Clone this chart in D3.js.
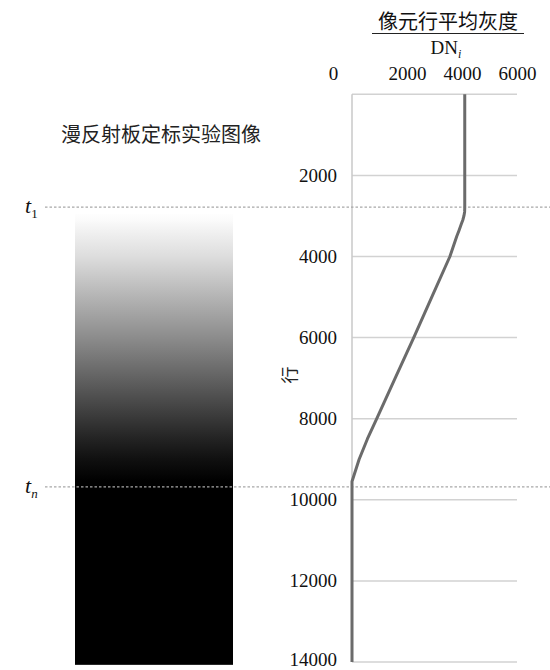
<!DOCTYPE html>
<html>
<head>
<meta charset="utf-8">
<script src="https://cdn.jsdelivr.net/npm/d3@7"></script>
<style>
  html, body { margin: 0; padding: 0; background: #fff; }
  svg { display: block; }
  .serif { font-family: "Liberation Serif", "DejaVu Serif", serif; }
  .cjk { font-family: "Noto Sans CJK SC", sans-serif; }
</style>
</head>
<body>
<div id="chart"></div>
<script>
// Mean gray level (DN) of each pixel row of the diffuse-reflector calibration image
const rows = [0, 2000, 2800, 2900, 3000, 3100, 3200, 3350, 3500, 4000, 5000, 6000, 7000, 8000, 8500, 9000, 9550, 10000, 12000, 14000];
const dnValues = [4100, 4100, 4100, 4095, 4070, 4030, 3975, 3895, 3810, 3560, 2900, 2245, 1570, 900, 560, 260, 0, 0, 0, 0];

const xTicks = [0, 2000, 4000, 6000];
const yTicks = [0, 2000, 4000, 6000, 8000, 10000, 12000, 14000];

// Row markers for the start (t1) and end (tn) of the gradient section
const markerRows = [2780, 9680];
const markerNames = ["1", "n"];

const imageTitle = "漫反射板定标实验图像";
const xTitle = "像元行平均灰度";
const yTitle = "行";

const W = 550, H = 670;

const svg = d3.select("#chart").append("svg")
  .attr("width", W).attr("height", H);

const x = d3.scaleLinear().domain([0, 6000]).range([352, 517]);
const y = d3.scaleLinear().domain([0, 14000]).range([94.3, 662]);

// Gray-level image strip: brightness follows the row-mean DN curve
const maxDN = d3.max(dnValues);
const stripTop = 2960, stripBottom = 14070;
const grad = svg.append("defs").append("linearGradient")
  .attr("id", "strip")
  .attr("gradientUnits", "userSpaceOnUse")
  .attr("x1", 0).attr("x2", 0)
  .attr("y1", y(stripTop)).attr("y2", y(stripBottom));
rows.forEach((r, i) => {
  if (r < stripTop) return;
  const v = Math.round(255 * dnValues[i] / maxDN);
  grad.append("stop")
    .attr("offset", (r - stripTop) / (stripBottom - stripTop))
    .attr("stop-color", d3.rgb(v, v, v));
});
grad.append("stop").attr("offset", 1).attr("stop-color", "#000");

svg.append("rect")
  .attr("x", 75).attr("width", 158)
  .attr("y", y(stripTop)).attr("height", y(stripBottom) - y(stripTop))
  .attr("fill", "url(#strip)");

svg.append("text")
  .attr("class", "cjk")
  .attr("x", 161).attr("y", 142)
  .attr("text-anchor", "middle")
  .attr("font-size", 20)
  .attr("fill", "#222")
  .text(imageTitle);

// Horizontal gridlines
svg.append("g").selectAll("line").data(yTicks).join("line")
  .attr("x1", x(0)).attr("x2", x(6000))
  .attr("y1", d => y(d)).attr("y2", d => y(d))
  .attr("stroke", "#d2d2d2").attr("stroke-width", 1.5);

// Left axis line
svg.append("line")
  .attr("x1", x(0)).attr("x2", x(0))
  .attr("y1", y(0)).attr("y2", y(14000))
  .attr("stroke", "#c8c8c8").attr("stroke-width", 1.5);

// Y axis labels
const yAxis = d3.axisLeft(y).tickValues(yTicks.slice(1)).tickSize(0).tickPadding(15)
  .tickFormat(d3.format("d"));
const gy = svg.append("g").attr("transform", `translate(${x(0)},0)`).call(yAxis);
gy.select(".domain").remove();
gy.attr("font-family", null).attr("font-size", null);
gy.selectAll("text")
  .attr("class", "serif")
  .style("font-size", "19px").attr("fill", "#111")
  .attr("dy", d => d === 14000 ? "0.2em" : "0.32em");

// X axis labels on top
const xAxis = d3.axisTop(x).tickValues(xTicks).tickSize(0).tickPadding(0)
  .tickFormat(d3.format("d"));
const gx = svg.append("g").attr("transform", "translate(0,80)").call(xAxis);
gx.select(".domain").remove();
gx.attr("font-family", null).attr("font-size", null);
gx.selectAll("text")
  .attr("class", "serif")
  .style("font-size", "19px").attr("fill", "#111")
  .attr("dy", 0)
  .attr("dx", d => d === 0 ? -19 : 0);

// Axis title with fraction bar
svg.append("text")
  .attr("class", "cjk")
  .attr("x", 448).attr("y", 29)
  .attr("text-anchor", "middle")
  .attr("font-size", 20).attr("fill", "#111")
  .text(xTitle);
svg.append("line")
  .attr("x1", 372).attr("x2", 524).attr("y1", 33.5).attr("y2", 33.5)
  .attr("stroke", "#222").attr("stroke-width", 1.2);
const dn = svg.append("text")
  .attr("class", "serif")
  .attr("x", 446).attr("y", 54)
  .attr("text-anchor", "middle")
  .attr("font-size", 19).attr("fill", "#111");
dn.append("tspan").text("DN");
dn.append("tspan").attr("font-size", 12).attr("font-style", "italic").attr("dy", 4).text("i");

svg.append("text")
  .attr("class", "cjk")
  .attr("transform", "translate(296,375) rotate(-90)")
  .attr("text-anchor", "middle")
  .attr("font-size", 17).attr("fill", "#222")
  .text(yTitle);

// Dashed row markers
svg.append("g").selectAll("line").data(markerRows).join("line")
  .attr("x1", 45).attr("x2", W)
  .attr("y1", d => y(d)).attr("y2", d => y(d))
  .attr("stroke", "#a8a8a8").attr("stroke-width", 1.3)
  .attr("stroke-dasharray", "2.5,2");

const mk = svg.append("g").selectAll("text").data(markerRows).join("text")
  .attr("class", "serif")
  .attr("x", 25).attr("y", d => y(d) + 6)
  .attr("font-size", 22).attr("fill", "#111");
mk.append("tspan").attr("font-style", "italic").text("t");
mk.append("tspan").attr("font-size", 13).attr("dy", 5)
  .attr("font-style", (d, i) => markerNames[i] === "n" ? "italic" : "normal")
  .text((d, i) => markerNames[i]);

// Row-mean DN curve
const line = d3.line()
  .x((d, i) => x(dnValues[i]))
  .y(d => y(d));
svg.append("path")
  .datum(rows)
  .attr("d", line)
  .attr("fill", "none")
  .attr("stroke", "#6b6b6b")
  .attr("stroke-width", 3)
  .attr("stroke-linejoin", "round");
</script>
</body>
</html>
